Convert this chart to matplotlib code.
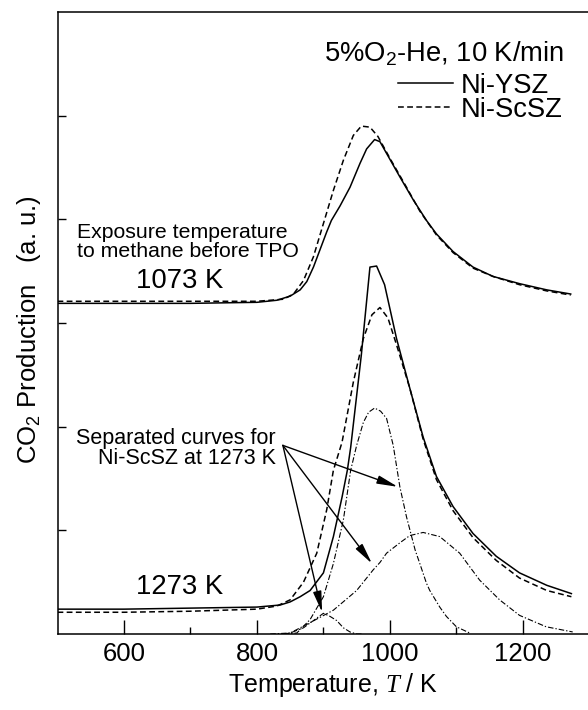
import matplotlib
matplotlib.use('Agg')
import matplotlib.pyplot as plt

plt.rcParams['font.family'] = ['Liberation Sans', 'DejaVu Sans']
plt.rcParams['mathtext.fontset'] = 'custom'
plt.rcParams['mathtext.rm'] = 'Liberation Sans'
plt.rcParams['mathtext.it'] = 'Liberation Serif:italic'
plt.rcParams['mathtext.default'] = 'rm'

# Ni-YSZ, exposed at 1073 K
t_ysz_1073 = [500, 600, 700, 800, 830, 850, 865, 875, 885, 895, 905, 912, 925, 940,
              955, 965, 977, 985, 1000, 1015, 1035, 1045, 1055, 1070, 1095, 1125,
              1155, 1195, 1236, 1272]
y_ysz_1073 = [3.19, 3.19, 3.19, 3.20, 3.22, 3.26, 3.32, 3.40, 3.54, 3.71, 3.88, 3.99,
              4.13, 4.31, 4.54, 4.68, 4.77, 4.75, 4.58, 4.41, 4.19, 4.09, 3.99, 3.86,
              3.69, 3.54, 3.45, 3.38, 3.32, 3.28]

# Ni-ScSZ, exposed at 1073 K
t_scsz_1073 = [500, 600, 700, 800, 840, 855, 870, 885, 900, 915, 930, 945, 957, 970,
               982, 1000, 1025, 1045, 1070, 1095, 1125, 1155, 1195, 1236, 1272]
y_scsz_1073 = [3.21, 3.21, 3.21, 3.21, 3.23, 3.28, 3.41, 3.64, 3.96, 4.28, 4.57, 4.81,
               4.90, 4.89, 4.80, 4.59, 4.31, 4.08, 3.85, 3.68, 3.53, 3.45, 3.37, 3.31,
               3.27]

# Ni-YSZ, exposed at 1273 K
t_ysz_1273 = [500, 600, 700, 800, 835, 850, 865, 880, 900, 915, 928, 936, 941, 957,
              970, 980, 992, 1010, 1030, 1050, 1070, 1095, 1125, 1160, 1195, 1236, 1273]
y_ysz_1273 = [0.24, 0.24, 0.25, 0.26, 0.28, 0.31, 0.36, 0.42, 0.59, 0.94, 1.32, 1.58,
              1.80, 2.69, 3.54, 3.55, 3.37, 2.85, 2.37, 1.90, 1.52, 1.23, 0.97, 0.75,
              0.59, 0.47, 0.39]

# Ni-ScSZ, exposed at 1273 K
t_scsz_1273 = [500, 600, 700, 800, 830, 850, 870, 890, 905, 915, 928, 945, 960, 973,
               985, 997, 1010, 1030, 1050, 1070, 1095, 1125, 1160, 1195, 1236, 1273]
y_scsz_1273 = [0.21, 0.21, 0.22, 0.24, 0.27, 0.33, 0.50, 0.78, 1.20, 1.58, 1.85, 2.43,
               2.85, 3.08, 3.15, 3.05, 2.79, 2.37, 1.88, 1.49, 1.19, 0.93, 0.71, 0.54,
               0.42, 0.36]

# separated curves for Ni-ScSZ at 1273 K
t_sep_a = [840, 860, 880, 900, 915, 930, 941, 950, 960, 968, 977, 986, 995, 1000, 1005,
           1015, 1025, 1038, 1045, 1055, 1060, 1075, 1085, 1100, 1120]
y_sep_a = [0.0, 0.01, 0.14, 0.36, 0.68, 1.10, 1.58, 1.82, 2.04, 2.14, 2.18, 2.15, 2.08,
           1.95, 1.82, 1.42, 1.13, 0.81, 0.68, 0.49, 0.42, 0.26, 0.17, 0.07, 0.01]

t_sep_b = [840, 850, 880, 915, 950, 975, 985, 995, 1015, 1030, 1050, 1075, 1105, 1135,
           1165, 1195, 1235, 1275]
y_sep_b = [0.0, 0.01, 0.11, 0.23, 0.42, 0.62, 0.69, 0.78, 0.88, 0.95, 0.98, 0.94, 0.78,
           0.52, 0.33, 0.18, 0.07, 0.02]

t_sep_c = [820, 850, 870, 885, 900, 910, 920, 930, 940, 950, 960]
y_sep_c = [0.0, 0.01, 0.06, 0.13, 0.20, 0.17, 0.13, 0.06, 0.02, 0.0, 0.0]

fig = plt.figure(figsize=(5.88, 7.10), dpi=100)
ax = fig.add_axes([0.0978, 0.107, 0.9022, 0.876])

dash = (3.8, 2.2)
dashdot = (5, 1.8, 1.2, 1.8)

l1, = ax.plot(t_ysz_1073, y_ysz_1073, color='k', lw=1.1, label='Ni-YSZ')
l2, = ax.plot(t_scsz_1073, y_scsz_1073, color='k', lw=1.1, ls=(0, dash), label='Ni-ScSZ')
ax.plot(t_ysz_1273, y_ysz_1273, color='k', lw=1.1)
ax.plot(t_scsz_1273, y_scsz_1273, color='k', lw=1.1, ls=(0, dash))
for t, y in [(t_sep_a, y_sep_a), (t_sep_b, y_sep_b), (t_sep_c, y_sep_c)]:
    ax.plot(t, y, color='k', lw=0.8, ls=(0, dashdot))

ax.set_xlim(500, 1298)
ax.set_ylim(0, 6)
ax.set_xticks([600, 800, 1000, 1200])
ax.set_xticks([700, 900, 1100], minor=True)
ax.set_yticks([1, 2, 3, 4, 5])
ax.set_yticklabels([])
ax.tick_params(axis='x', which='major', direction='in', length=10, width=1.0,
               labelsize=18.5, pad=6)
ax.tick_params(axis='x', which='minor', direction='in', length=5, width=1.0)
ax.tick_params(axis='y', which='major', direction='in', length=6, width=1.0)
ax.spines['right'].set_visible(False)
for s in ['left', 'bottom', 'top']:
    ax.spines[s].set_linewidth(1.1)

ax.set_xlabel('Temperature, $\\mathit{T}$ / K', fontsize=18)
ax.xaxis.set_label_coords(0.519, -0.059)
ax.set_ylabel('CO$_2$ Production   (a. u.)', fontsize=18.5)
ax.yaxis.set_label_coords(-0.028, 0.49)

ax.text(1262, 5.60, '5%O$_2$-He, 10 K/min', fontsize=19.7, ha='right', va='center')
ax.legend(handles=[l1, l2], loc='upper right', bbox_to_anchor=(0.953, 0.902),
          frameon=False, fontsize=19.7, borderpad=0, borderaxespad=0,
          handlelength=2.0, handletextpad=0.3, labelspacing=-0.08)

ax.text(529, 3.78, 'Exposure temperature\nto methane before TPO', fontsize=15.3,
        ha='left', va='center', linespacing=1.0)
ax.text(683, 3.41, '1073 K', fontsize=19.8, ha='center', va='center')
ax.text(683, 0.45, '1273 K', fontsize=19.8, ha='center', va='center')
ax.text(828, 1.79, 'Separated curves for\nNi-ScSZ at 1273 K', fontsize=15.5,
        ha='right', va='center', linespacing=0.95, multialignment='right')

arrow_from = (839, 1.82)
for tip in [(1012, 1.42), (973, 0.68), (898, 0.21)]:
    ax.annotate('', xy=tip, xytext=arrow_from,
                arrowprops=dict(arrowstyle='-|>,head_length=0.9,head_width=0.18',
                                color='k', lw=1.0, shrinkA=0, shrinkB=0,
                                mutation_scale=14))

fig.savefig('out.png', dpi=100)
